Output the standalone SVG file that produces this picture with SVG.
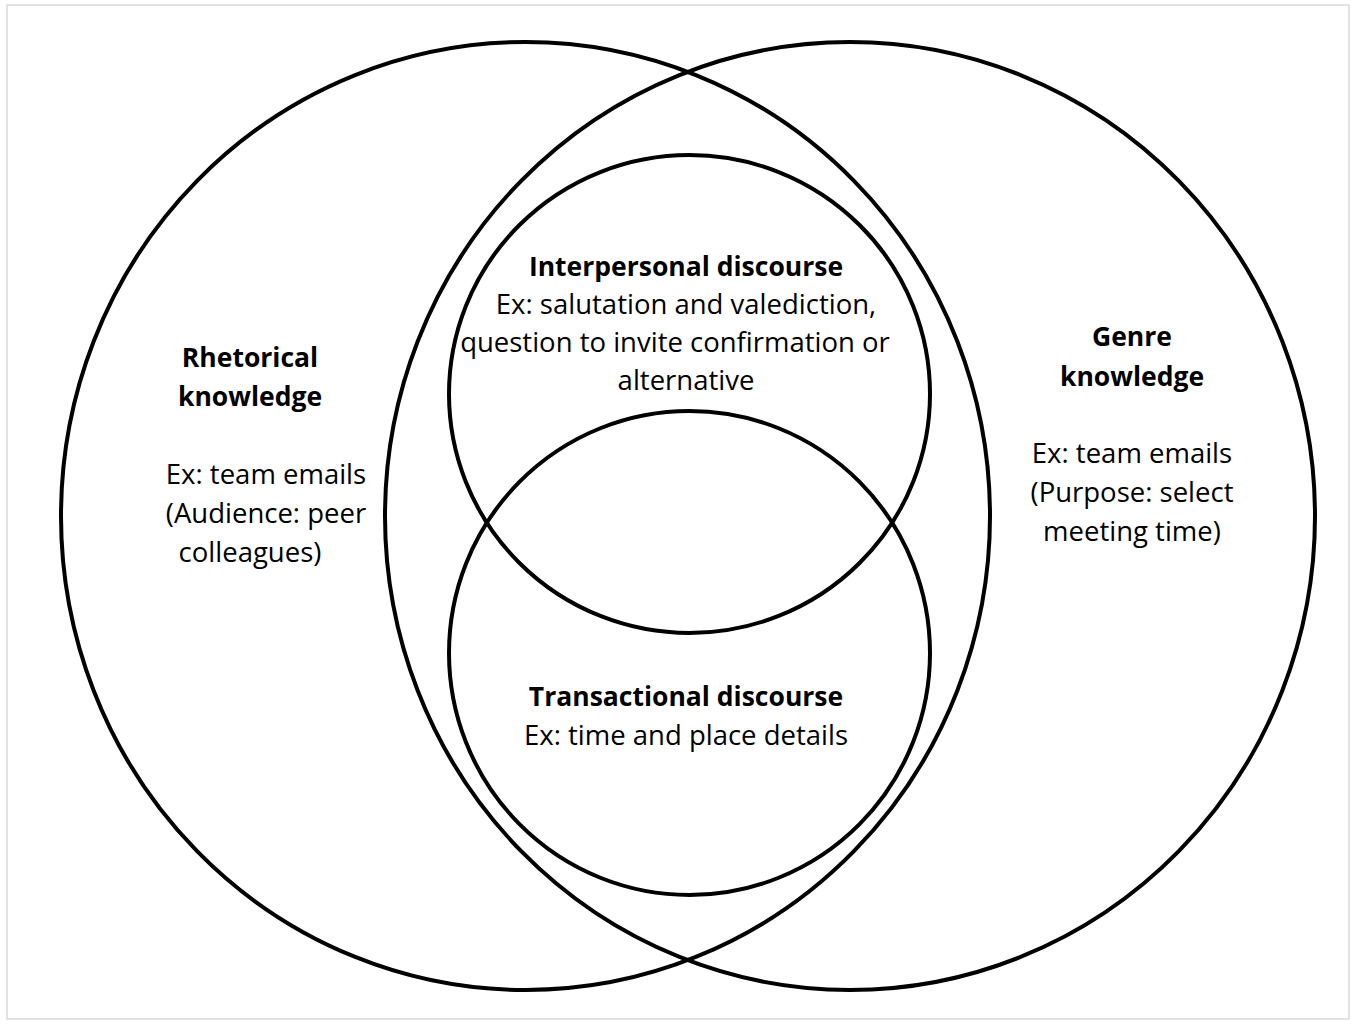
<svg xmlns="http://www.w3.org/2000/svg" width="1356" height="1026" viewBox="0 0 1356 1026">
  <style>
    .ring { fill: none; stroke: #000; stroke-width: 4; }
    .frame { fill: #fff; stroke: #d9d9d9; stroke-width: 1.5; }
    text { font-family: "Open Sans", "Liberation Sans", sans-serif; font-size: 27.5px; fill: #000; text-anchor: middle; }
    .b { font-weight: bold; font-size: 26.5px; }
  </style>
  <rect class="frame" x="7" y="5" width="1342" height="1014"/>

  <g id="rhetorical">
    <ellipse class="ring" cx="525.5" cy="516" rx="464.5" ry="474"/>
    <text class="b" x="250" y="367">Rhetorical</text>
    <text class="b" x="250" y="406">knowledge</text>
    <text x="266" y="484">Ex: team emails</text>
    <text x="266" y="523">(Audience: peer</text>
    <text x="250" y="562">colleagues)</text>
  </g>

  <g id="genre">
    <ellipse class="ring" cx="850" cy="516" rx="465" ry="474"/>
    <text class="b" x="1132" y="346">Genre</text>
    <text class="b" x="1132" y="386">knowledge</text>
    <text x="1132" y="463">Ex: team emails</text>
    <text x="1132" y="502">(Purpose: select</text>
    <text x="1132" y="541">meeting time)</text>
  </g>

  <g id="interpersonal">
    <ellipse class="ring" cx="689.5" cy="394" rx="240.5" ry="239"/>
    <text class="b" x="686" y="276">Interpersonal discourse</text>
    <text x="686" y="314">Ex: salutation and valediction,</text>
    <text x="675" y="352">question to invite confirmation or</text>
    <text x="686" y="390">alternative</text>
  </g>

  <g id="transactional">
    <ellipse class="ring" cx="689.5" cy="653" rx="240.5" ry="242"/>
    <text class="b" x="686" y="706">Transactional discourse</text>
    <text x="686" y="745">Ex: time and place details</text>
  </g>

  <g id="connectors"/>
</svg>
